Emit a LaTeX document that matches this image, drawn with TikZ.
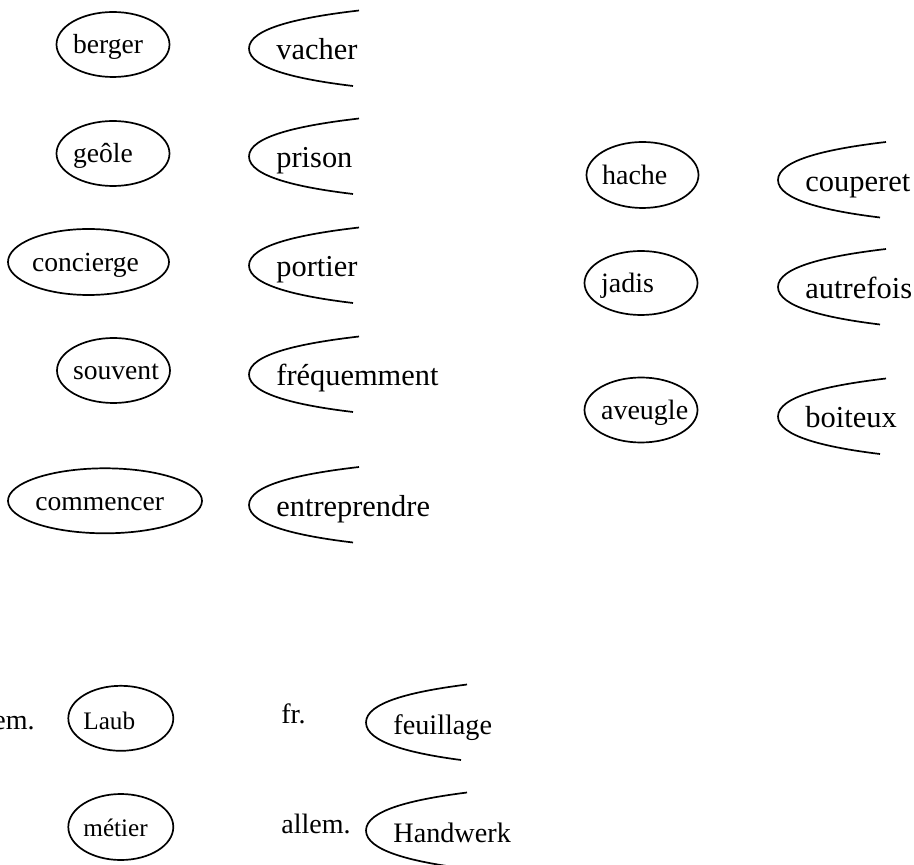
\documentclass[tikz,border=0pt]{standalone}
\usepackage{fontspec}
\setmainfont{Liberation Serif}
\usetikzlibrary{shapes.geometric, positioning, calc}

% open "(" shape drawn left of a word node: #1 = word node, #2 = width
\newcommand{\openarc}[2]{%
  \begin{scope}[shift={([shift={(-27,-11.5)}]#1.base west)}]
    \draw[arcline] (#2,-38) .. controls ({0.45*#2},-31) and (0,-20) .. (0,0)
      .. controls (0,20) and ({0.45*#2},31) .. ({#2-6},37.5);
  \end{scope}}

\begin{document}
\begin{tikzpicture}[
    x=0.5pt, y=-0.5pt,
    % Styles (sizes in px of the picture, one px = 0.5pt)
    wordell/.style 2 args={
        ellipse,
        draw=black,
        line width=0.85pt,
        inner sep=0pt,
        minimum width=#1*0.5pt,
        minimum height=#2*0.5pt
    },
    elltext/.style={
        anchor=base west,
        inner sep=0pt,
        font=\fontsize{13.8}{16}\selectfont
    },
    halftext/.style={
        anchor=base west,
        inner sep=0pt,
        font=\fontsize{15.2}{18}\selectfont
    },
    langtext/.style={
        anchor=base west,
        inner sep=0pt,
        font=\fontsize{14}{16}\selectfont
    },
    arcline/.style={
        line width=0.85pt,
        color=black
    }
]
\useasboundingbox (0,0) rectangle (914,865);
\clip (0,0) rectangle (914,865);

% --- Left group: ellipses ---
\node (berger) [wordell={113}{65}] at (113,44.5) {};
\node (berger_t) [elltext] at (72.7,53.5) {berger};

\node (geole) [wordell={113}{65}] at (113,153.5) {};
\node (geole_t) [elltext] at (72.7,163) {geôle};

\node (concierge) [wordell={161}{66}] at (88.5,262) {};
\node (concierge_t) [elltext] at (31.7,271.7) {concierge};

\node (souvent) [wordell={113}{65}] at (113.5,370.5) {};
\node (souvent_t) [elltext] at (72.7,380) {souvent};

\node (commencer) [wordell={194}{65}] at (105,500.8) {};
\node (commencer_t) [elltext] at (35,510.5) {commencer};

% --- Left group: open shapes ---
\node (vacher) [halftext] at (276,60) {vacher};
\node (prison) [halftext] at (276,168) {prison};
\node (portier) [halftext] at (276,277) {portier};
\node (frequemment) [halftext] at (276,386) {fréquemment};
\node (entreprendre) [halftext] at (276,516.5) {entreprendre};

\openarc{vacher}{110}
\openarc{prison}{110}
\openarc{portier}{110}
\openarc{frequemment}{110}
\openarc{entreprendre}{110}

% --- Right group ---
\node (hache) [wordell={112}{66}] at (642.5,175) {};
\node (hache_t) [elltext, font=\fontsize{14}{16}\selectfont] at (601.7,185) {hache};

\node (jadis) [wordell={113}{64}] at (641,283) {};
\node (jadis_t) [elltext, font=\fontsize{14}{16}\selectfont] at (600.7,292.7) {jadis};

\node (aveugle) [wordell={113}{65}] at (641,410) {};
\node (aveugle_t) [elltext, font=\fontsize{14}{16}\selectfont] at (600.7,420) {aveugle};

\node (couperet) [halftext, font=\fontsize{15.25}{18}\selectfont] at (805,191.5) {couperet};
\node (autrefois) [halftext, font=\fontsize{15.25}{18}\selectfont] at (805,298.5) {autrefois};
\node (boiteux) [halftext, font=\fontsize{15.25}{18}\selectfont] at (805,428) {boiteux};

\openarc{couperet}{108}
\openarc{autrefois}{108}
\openarc{boiteux}{108}

% --- Bottom group ---
\node (allem_a) [langtext, anchor=base east] at (35,729.3) {allem.};
\node (laub) [wordell={105}{65}] at (120.8,718.3) {};
\node (laub_t) [elltext, font=\fontsize{12.6}{15}\selectfont] at (83,729.3) {Laub};
\node (fr) [langtext] at (281,723.3) {fr.};
\node (feuillage) [halftext, font=\fontsize{14.1}{16}\selectfont] at (393,734) {feuillage};

\node (metier) [wordell={105}{66}] at (120.8,827) {};
\node (metier_t) [elltext, font=\fontsize{12.6}{15}\selectfont] at (83,836.7) {métier};
\node (allem_b) [langtext] at (281,833.3) {allem.};
\node (handwerk) [halftext, font=\fontsize{14.1}{16}\selectfont] at (393,842) {Handwerk};

\openarc{feuillage}{101}
\openarc{handwerk}{101}

\end{tikzpicture}
\end{document}
